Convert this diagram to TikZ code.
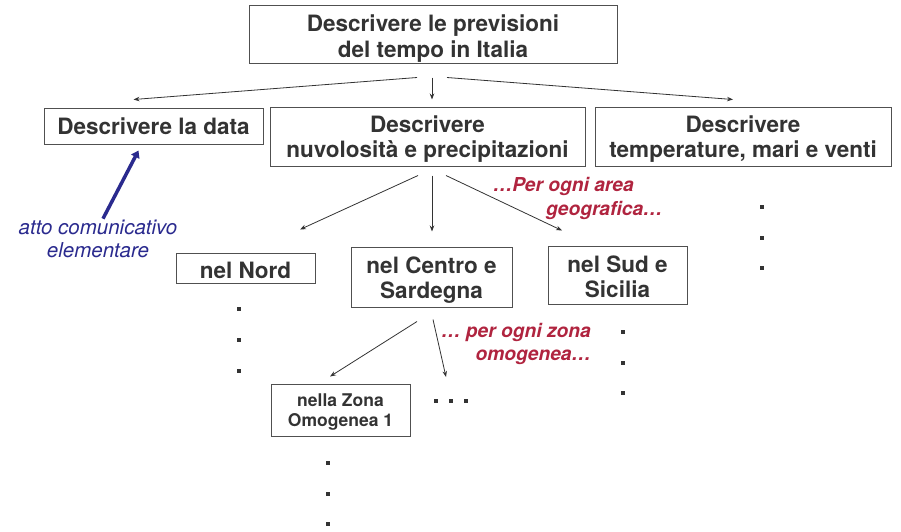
\documentclass[tikz,border=0pt]{standalone}
\usepackage{fontspec}
\setmainfont{TeX Gyre Heros}
\usetikzlibrary{arrows.meta,calc}
\definecolor{ink}{HTML}{333333}
\definecolor{frame}{HTML}{505050}
\definecolor{crimson}{HTML}{B0243F}
\definecolor{navy}{HTML}{2A2A8E}
% invisible strut that lowers a box's text a little
\newcommand{\lowerby}[1]{\rule{0pt}{#1pt}}
\begin{document}
\begin{tikzpicture}[x=1pt,y=-1pt,
  box/.style={draw=frame, line width=1pt, inner sep=0pt, align=center,
    text=ink, font=\fontsize{22.5}{25}\selectfont\bfseries},
  bigbox/.style={box, font=\fontsize{22.5}{26.5}\selectfont\bfseries},
  smallbox/.style={box, font=\fontsize{17.5}{20.5}\selectfont\bfseries},
  arr/.style={draw=ink, line width=0.8pt, -{Stealth[length=6pt,width=4.5pt]}},
  note/.style={inner sep=0pt, text=crimson,
    font=\fontsize{19.2}{23.5}\selectfont\bfseries\itshape},
  bluenote/.style={inner sep=0pt, text=navy, align=center,
    font=\fontsize{20.5}{23.5}\selectfont\itshape},
  dot/.style={fill=ink}
]
\useasboundingbox (0,0) rectangle (901,531);

% boxes
\node[bigbox, minimum width=368pt, minimum height=58pt] (top) at (433,34)
  {\lowerby{26.2}Descrivere le previsioni\\del tempo in Italia};
\node[box, minimum width=219pt, minimum height=36pt] (data) at (153.5,126)
  {Descrivere la data};
\node[box, minimum width=315pt, minimum height=59pt] (nuv) at (427.5,136.5)
  {\lowerby{22.2}Descrivere\\nuvolosità e precipitazioni};
\node[box, minimum width=296pt, minimum height=59pt] (temp) at (743,136.5)
  {\lowerby{22.2}Descrivere\\temperature, mari e venti};
\node[box, minimum width=139pt, minimum height=30pt] (nord) at (245.5,268)
  {\lowerby{20.2}nel Nord};
\node[box, minimum width=161pt, minimum height=60pt] (centro) at (431.5,277)
  {\lowerby{23.2}nel Centro e\\Sardegna};
\node[box, minimum width=139pt, minimum height=58pt] (sud) at (617.5,275)
  {\lowerby{20.2}nel Sud e\\Sicilia};
\node[smallbox, minimum width=139pt, minimum height=52pt] (zona) at (340.5,410)
  {\lowerby{16.6}nella Zona\\Omogenea 1};

% first level
\draw[arr] ($(top.south)+(-16,14)$) -- ($(data.north)+(-20,-8)$);
\draw[arr] ($(top.south)+(-1,14)$) -- ($(nuv.north)+(4.5,-7)$);
\draw[arr] ($(top.south)+(14,14)$) -- ($(temp.north)+(-10,-7)$);

% second level
\draw[arr] ($(nuv.south)+(-9.5,9)$) -- ($(nord.north)+(54.5,-23)$);
\draw[arr] ($(nuv.south)+(4.5,9)$) -- ($(centro.north)+(0.5,-15)$);
\draw[arr] ($(nuv.south)+(18.5,9)$) -- ($(sud.north)+(-55.5,-15)$);

% third level
\draw[arr] ($(centro.south)+(-14.5,14)$) -- ($(zona.north)+(-10.5,-7)$);
\coordinate (more) at (446,377);
\draw[arr] ($(centro.south)+(1.5,12)$) -- (more);

% annotation pointing at the single communicative act
\node[bluenote] (atto) at (98,239) {atto comunicativo\\elementare};
\draw[navy, line width=3.5pt, -{Triangle[length=7pt,width=9pt]}]
  ($(atto.north)+(5,-1)$) -- ($(data.south)+(-15,6)$);

% notes in red
\node[note, anchor=west] (area1) at (493,186) {…Per ogni area};
\node[note, anchor=west] (area2) at (546,210) {geografica…};
\node[note, anchor=east, align=right] (omog) at (591,344)
  {… per ogni zona\\omogenea…};

% continuation dots
\foreach \x/\y in {239/309, 239/340, 239/371,
                   623/332, 623/363, 623/393,
                   762/207, 762/238, 762/268,
                   328/463, 328/494, 328/524,
                   436/401, 451/401, 466/401}
  \fill[dot] (\x-1.8,\y-1.8) rectangle (\x+1.8,\y+1.8);
\end{tikzpicture}
\end{document}
